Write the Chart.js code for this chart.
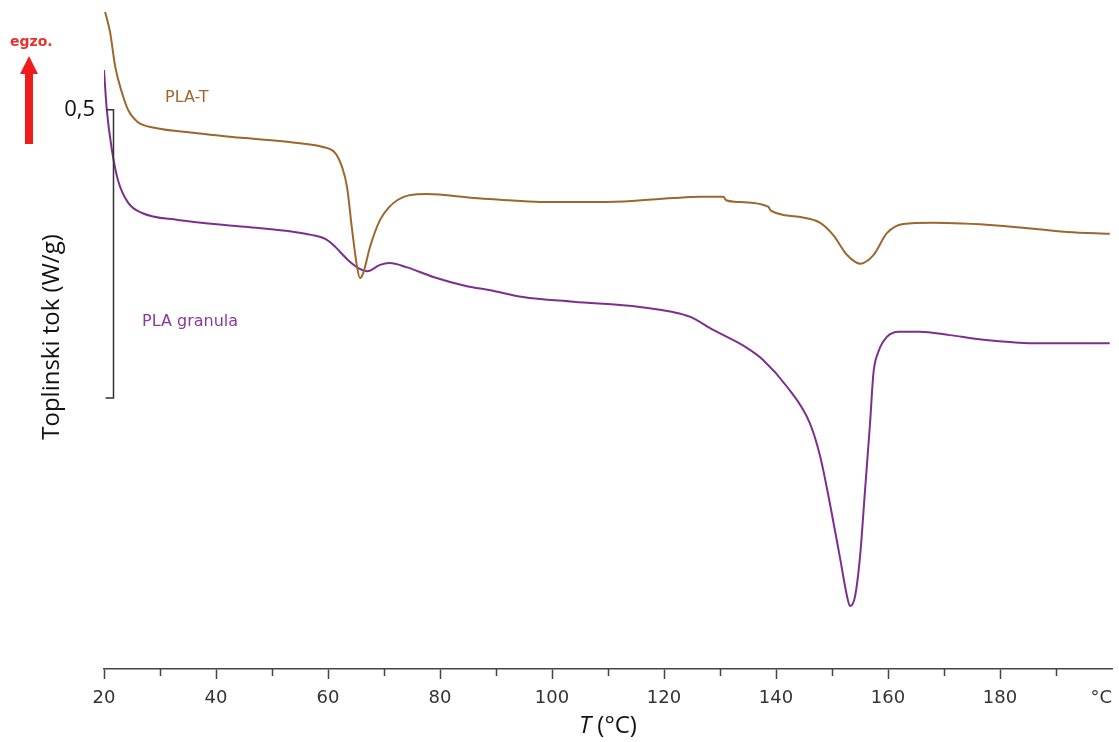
<!DOCTYPE html>
<html>
<head>
<meta charset="utf-8">
<script src="https://cdn.jsdelivr.net/npm/chart.js@4.4.1/dist/chart.umd.min.js"></script>
<style>
  html, body { margin: 0; padding: 0; background: #fff; }
  #wrap { width: 1119px; height: 742px; }
</style>
</head>
<body>
<div id="wrap"><canvas id="dscChart"></canvas></div>
<script>
// DSC curves: temperature (°C) and heat flow (W/g, shifted, exo up)
const tempPLAT = [20.2, 21.1, 22.0, 23.2, 24.3, 26.0, 29.0, 36.3, 45.2, 54.1, 58.9, 61.3, 62.5, 63.4, 64.3, 65.2, 65.7, 66.3, 67.5, 69.3, 71.0, 72.5, 74.6, 77.7, 86.0, 90.7, 97.9, 109.8, 121.6, 126.4, 130.6, 131.1, 133.6, 138.6, 139.1, 144.3, 147.9, 150.2, 152.7, 155.0, 157.4, 159.8, 162.7, 168.0, 180.0, 192.0, 199.6];
const flowPLAT = [0.670, 0.634, 0.575, 0.530, 0.500, 0.479, 0.469, 0.460, 0.451, 0.443, 0.436, 0.425, 0.401, 0.366, 0.292, 0.227, 0.208, 0.217, 0.262, 0.309, 0.332, 0.344, 0.352, 0.354, 0.347, 0.344, 0.340, 0.340, 0.347, 0.349, 0.349, 0.343, 0.340, 0.332, 0.325, 0.314, 0.304, 0.283, 0.248, 0.233, 0.248, 0.286, 0.302, 0.304, 0.299, 0.288, 0.285];

const tempGranula = [20.0, 20.5, 21.4, 22.5, 24.3, 26.8, 33.2, 45.2, 54.0, 57.0, 59.5, 61.0, 63.5, 65.5, 67.0, 69.3, 71.0, 74.0, 78.8, 84.8, 89.0, 94.8, 103.8, 115.7, 121.6, 124.6, 128.8, 134.8, 137.7, 142.0, 146.0, 147.9, 149.6, 151.4, 152.7, 153.2, 154.1, 155.0, 155.9, 156.8, 157.4, 158.2, 159.8, 162.0, 165.7, 171.0, 177.0, 186.0, 199.6];
const flowGranula = [0.569, 0.500, 0.431, 0.378, 0.339, 0.321, 0.309, 0.297, 0.288, 0.283, 0.276, 0.265, 0.240, 0.225, 0.220, 0.231, 0.234, 0.227, 0.210, 0.194, 0.187, 0.175, 0.167, 0.158, 0.149, 0.141, 0.118, 0.087, 0.066, 0.019, -0.043, -0.102, -0.182, -0.276, -0.345, -0.361, -0.345, -0.276, -0.160, -0.043, 0.043, 0.078, 0.106, 0.115, 0.115, 0.109, 0.101, 0.095, 0.095];

const xMajorTicks = [20, 40, 60, 80, 100, 120, 140, 160, 180];
const xMinorTicks = [30, 50, 70, 90, 110, 130, 150, 170, 190];
const scaleBar = [0, 0.5];   // bracket showing 0,5 W/g
const seriesNames = ['PLA-T', 'PLA granula'];
const labelPos = [[30.9, 0.521], [26.8, 0.132]];

const colPLAT = '#9b672e';
const colGranula = '#7d2f8e';
const axisCol = '#444';

const toPoints = (xs, ys) => xs.map((t, i) => ({ x: t, y: ys[i] }));

// extra drawing: minor ticks, scale bar, labels, exo arrow
const extras = {
    id: 'extras',
    afterDraw(chart) {
        const ctx = chart.ctx;
        const xs = chart.scales.x;
        const ys = chart.scales.y;
        const base = chart.chartArea.bottom;
        ctx.save();

        // minor ticks
        ctx.strokeStyle = axisCol;
        ctx.lineWidth = 1.5;
        xMinorTicks.forEach(v => {
            const px = Math.round(xs.getPixelForValue(v)) + 0.5;
            ctx.beginPath();
            ctx.moveTo(px, base);
            ctx.lineTo(px, base + 7);
            ctx.stroke();
        });

        // unit at the end of the axis
        ctx.fillStyle = '#333';
        ctx.font = '18px "DejaVu Sans", sans-serif';
        ctx.textAlign = 'right';
        ctx.textBaseline = 'middle';
        ctx.fillText('°C', xs.right, base + 29);

        // axis title with italic T
        ctx.font = '24px "Open Sans", sans-serif';
        const rest = ' (°C)';
        const wRest = ctx.measureText(rest).width;
        ctx.font = 'italic 24px "Open Sans", sans-serif';
        const wT = ctx.measureText('T').width;
        const cx = (xs.left + xs.right) / 2;
        const startX = cx - (wT + wRest) / 2;
        ctx.textAlign = 'left';
        ctx.fillStyle = '#111';
        ctx.fillText('T', startX, base + 57);
        ctx.font = '24px "Open Sans", sans-serif';
        ctx.fillText(rest, startX + wT, base + 57);

        // scale bar
        const bx = Math.round(xs.left + 9) + 0.5;
        const yTop = ys.getPixelForValue(scaleBar[1]);
        const yBot = ys.getPixelForValue(scaleBar[0]);
        ctx.strokeStyle = '#333';
        ctx.lineWidth = 1.5;
        ctx.beginPath();
        ctx.moveTo(bx - 7, yTop);
        ctx.lineTo(bx, yTop);
        ctx.lineTo(bx, yBot);
        ctx.lineTo(bx - 8, yBot);
        ctx.stroke();

        // curve labels
        ctx.font = '16px "DejaVu Sans", sans-serif';
        ctx.textBaseline = 'middle';
        [colPLAT, '#8a3a9c'].forEach((c, i) => {
            ctx.fillStyle = c;
            ctx.fillText(seriesNames[i], xs.getPixelForValue(labelPos[i][0]), ys.getPixelForValue(labelPos[i][1]));
        });

        // exo direction arrow
        ctx.fillStyle = '#e8302c';
        ctx.font = 'bold 14px "DejaVu Sans", sans-serif';
        ctx.textAlign = 'left';
        ctx.fillText('egzo.', 10, 42);
        ctx.fillStyle = '#ee1c1c';
        ctx.fillRect(25, 72, 8, 72);
        ctx.beginPath();
        ctx.moveTo(29, 56);
        ctx.lineTo(38, 74);
        ctx.lineTo(20, 74);
        ctx.closePath();
        ctx.fill();

        ctx.restore();
    }
};

const dsc = document.getElementById('dscChart');

new Chart(dsc, {
    type: 'line',
    data: {
        datasets: [{
            label: seriesNames[0],
            data: toPoints(tempPLAT, flowPLAT),
            borderColor: colPLAT,
            borderWidth: 2,
            pointRadius: 0,
            cubicInterpolationMode: 'monotone',
            fill: false
        }, {
            label: seriesNames[1],
            data: toPoints(tempGranula, flowGranula),
            borderColor: colGranula,
            borderWidth: 2,
            pointRadius: 0,
            cubicInterpolationMode: 'monotone',
            fill: false
        }]
    },
    options: {
        responsive: true,
        maintainAspectRatio: false,
        animation: false,
        devicePixelRatio: 1,
        layout: { padding: { left: 38, right: 7, top: 5, bottom: 0 } },
        plugins: {
            legend: { display: false },
            tooltip: { enabled: false }
        },
        scales: {
            x: {
                type: 'linear',
                min: 20,
                max: 200,
                afterFit: s => { s.height = 73; s.paddingLeft = 0; s.paddingRight = 0; },
                ticks: {
                    stepSize: 10,
                    autoSkip: false,
                    maxRotation: 0,
                    padding: 9,
                    color: '#333',
                    font: { family: '"DejaVu Sans", sans-serif', size: 18 },
                    callback: v => xMajorTicks.includes(v) ? String(v) : ''
                },
                grid: {
                    display: true,
                    drawOnChartArea: false,
                    drawTicks: true,
                    tickLength: 10,
                    tickWidth: 1.5,
                    tickColor: c => xMajorTicks.includes(c.tick && c.tick.value) ? axisCol : 'rgba(0,0,0,0)'
                },
                border: { display: true, color: axisCol, width: 1.5 }
            },
            y: {
                type: 'linear',
                min: -0.4705,
                max: 0.682,
                afterFit: s => { s.width = 66; s.paddingTop = 0; s.paddingBottom = 0; },
                afterBuildTicks: s => { s.ticks = [{ value: scaleBar[1] }]; },
                ticks: {
                    padding: 9,
                    color: '#111',
                    font: { family: '"Open Sans", sans-serif', size: 22 },
                    callback: () => '0,5'
                },
                grid: { display: false, drawTicks: false, tickLength: 0 },
                border: { display: false },
                title: {
                    display: true,
                    text: 'Toplinski tok (W/g)',
                    color: '#111',
                    font: { family: '"Open Sans", sans-serif', size: 24 },
                    padding: 0
                }
            }
        }
    },
    plugins: [extras]
});
</script>
</body>
</html>
